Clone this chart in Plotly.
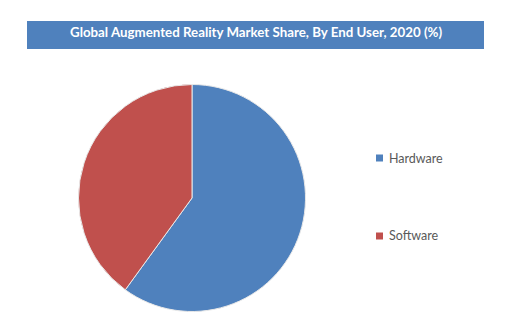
import plotly.graph_objects as go

labels = ["Hardware", "Software"]
values = [60, 40]
colors = ["#4F81BD", "#C0504D"]
title_text = "Global Augmented Reality Market Share, By End User, 2020 (%)"

W, H = 516, 336

fig = go.Figure()
fig.add_trace(go.Pie(
    labels=labels, values=values, sort=False, direction="clockwise", rotation=0,
    marker=dict(colors=colors, line=dict(color="#E8E8E8", width=1)),
    textinfo="none", hoverinfo="label+percent", showlegend=False,
    domain=dict(x=[78.5 / W, 305.5 / W], y=[24.5 / H, 251.5 / H]),
))

shapes = [dict(type="rect", xref="paper", yref="paper",
               x0=27 / W, x1=484 / W, y0=(H - 49) / H, y1=(H - 21) / H,
               fillcolor="#4F81BD", line=dict(width=0), layer="below")]
annotations = [dict(text="<b>" + title_text + "</b>", xref="paper", yref="paper",
                    x=256 / W, y=(H - 32) / H, xanchor="center", yanchor="middle",
                    showarrow=False, font=dict(family="Lato", size=13.3, color="white"))]

legend_y = [158, 236]
for lab, col, ly in zip(labels, colors, legend_y):
    shapes.append(dict(type="rect", xref="paper", yref="paper",
                       x0=376 / W, x1=383 / W, y0=(H - ly - 3.5) / H, y1=(H - ly + 3.5) / H,
                       fillcolor=col, line=dict(width=0)))
    annotations.append(dict(text=lab, xref="paper", yref="paper",
                            x=387 / W, y=(H - ly) / H, xanchor="left", yanchor="middle",
                            showarrow=False, font=dict(family="Lato", size=12.5, color="#595959")))

fig.update_layout(width=W, height=H, margin=dict(l=0, r=0, t=0, b=0),
                  paper_bgcolor="white", plot_bgcolor="white",
                  shapes=shapes, annotations=annotations, showlegend=False)

fig.write_html("out.html")
